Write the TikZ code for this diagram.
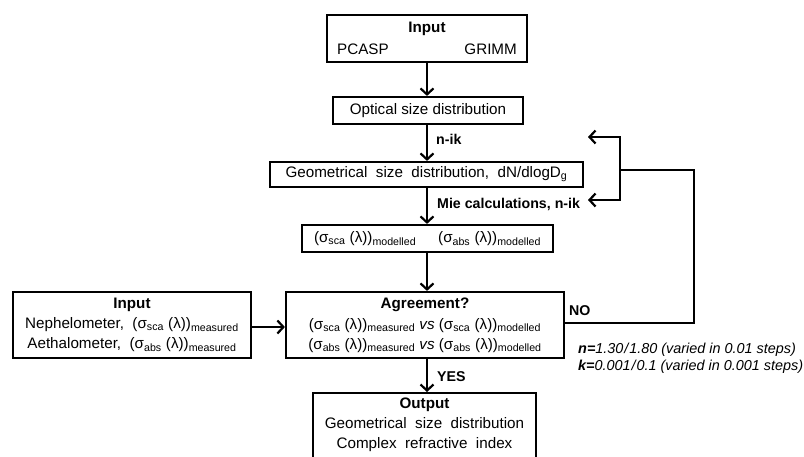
\documentclass[tikz,border=0pt]{standalone}
\usepackage{fontspec}
\setmainfont{Liberation Sans}
\usetikzlibrary{arrows.meta}
\newcommand\sbs[1]{\textsubscript{#1}}
\begin{document}
\begin{tikzpicture}[x=1pt,y=-1pt,
  every node/.style={font=\fontsize{15.2}{20}\selectfont, inner sep=0pt},
  box/.style={draw, line width=2.2pt, rectangle, align=center},
  arr/.style={line width=2.2pt, -{Straight Barb[length=6pt,width=13pt]}},
  lbl/.style={font=\fontsize{14.2}{16}\selectfont\bfseries, anchor=west},
  note/.style={font=\fontsize{14.4}{17}\selectfont\itshape, anchor=west},
  conn/.style={line width=2.2pt}
]
\useasboundingbox (0,0) rectangle (804,456);

% top input
\node[box, minimum width=200, minimum height=47] (inp) at (427,38.5) {};
\node (inptitle) at (427,29) {\textbf{Input}};
\node[anchor=west] (pcasp) at (337,49) {PCASP};
\node[anchor=east] (grimm) at (517,49) {GRIMM};

\node[box, minimum width=190, minimum height=27] (opt) at (428,110.5) {Optical size distribution};
\node[box, minimum width=313, minimum height=25] (geo) at (426.5,174.5) {Geometrical\ \ size\ \ distribution,\ \ dN/dlogD\sbs{g}};
\node[box, minimum width=251, minimum height=27] (mod) at (427.5,238.5) {(σ\sbs{sca} (λ))\sbs{modelled}\hspace{22pt}(σ\sbs{abs} (λ))\sbs{modelled}};

\node[box, minimum width=278, minimum height=66] (agr) at (425,325) {\textbf{Agreement?}\\[1pt]
(σ\sbs{sca} (λ))\sbs{measured} \textit{vs} (σ\sbs{sca} (λ))\sbs{modelled}\\
(σ\sbs{abs} (λ))\sbs{measured} \textit{vs} (σ\sbs{abs} (λ))\sbs{modelled}};

\node[box, minimum width=238, minimum height=66] (left) at (132,325) {\textbf{Input}\\
Nephelometer,\ \ (σ\sbs{sca} (λ))\sbs{measured}\\
Aethalometer,\ \ (σ\sbs{abs} (λ))\sbs{measured}};

\node[box, minimum width=223, minimum height=80, anchor=north] (out) at (424.5,392) {};
\node[align=center, anchor=north] (outtxt) at (424.5,398) {\textbf{Output}\\Geometrical\ \ size\ \ distribution\\Complex\ \ refractive\ \ index};

% main column arrows
\draw[arr] (inp.south) -- (inp.south |- opt.north);
\draw[arr] (opt.south -| inp.south) -- (geo.north -| inp.south);
\draw[arr] (geo.south -| inp.south) -- (mod.north -| inp.south);
\draw[arr] (mod.south -| inp.south) -- (agr.north -| inp.south);
\draw[arr] (agr.south -| inp.south) -- (out.north -| inp.south);
\draw[arr] ([yshift=-2pt]left.east) -- ([yshift=-2pt]agr.west);

% labels
\node[lbl] (nik) at (436,139) {n-ik};
\node[lbl] (mie) at (437,204) {Mie calculations, n-ik};
\node[lbl] (yes) at (437,377) {YES};
\node[lbl] (no) at (569,311) {NO};

% feedback loop
\coordinate (fbr) at (694,170);
\coordinate (fbv) at (620,170);
\coordinate (fbtop) at (620,137);
\coordinate (fbbot) at (620,200);
\coordinate (tiptop) at (588,137);
\coordinate (tipbot) at (588,200);
\draw[conn, line join=miter] ([yshift=2pt]agr.east) -- ([yshift=2pt]agr.east -| fbr) -- (fbr) -- (fbv);
\draw[arr, line join=miter] (fbbot) -- (fbtop) -- (tiptop);
\draw[arr, line cap=rect] (fbbot) -- (tipbot);

% notes
\node[note] (nnote) at (578,350) {\textbf{n=}1.30\kern1pt/\kern1pt1.80 (varied in 0.01 steps)};
\node[note] (knote) at (578,367) {\textbf{k=}0.001\kern1pt/\kern1pt0.1 (varied in 0.001 steps)};
\end{tikzpicture}
\end{document}
